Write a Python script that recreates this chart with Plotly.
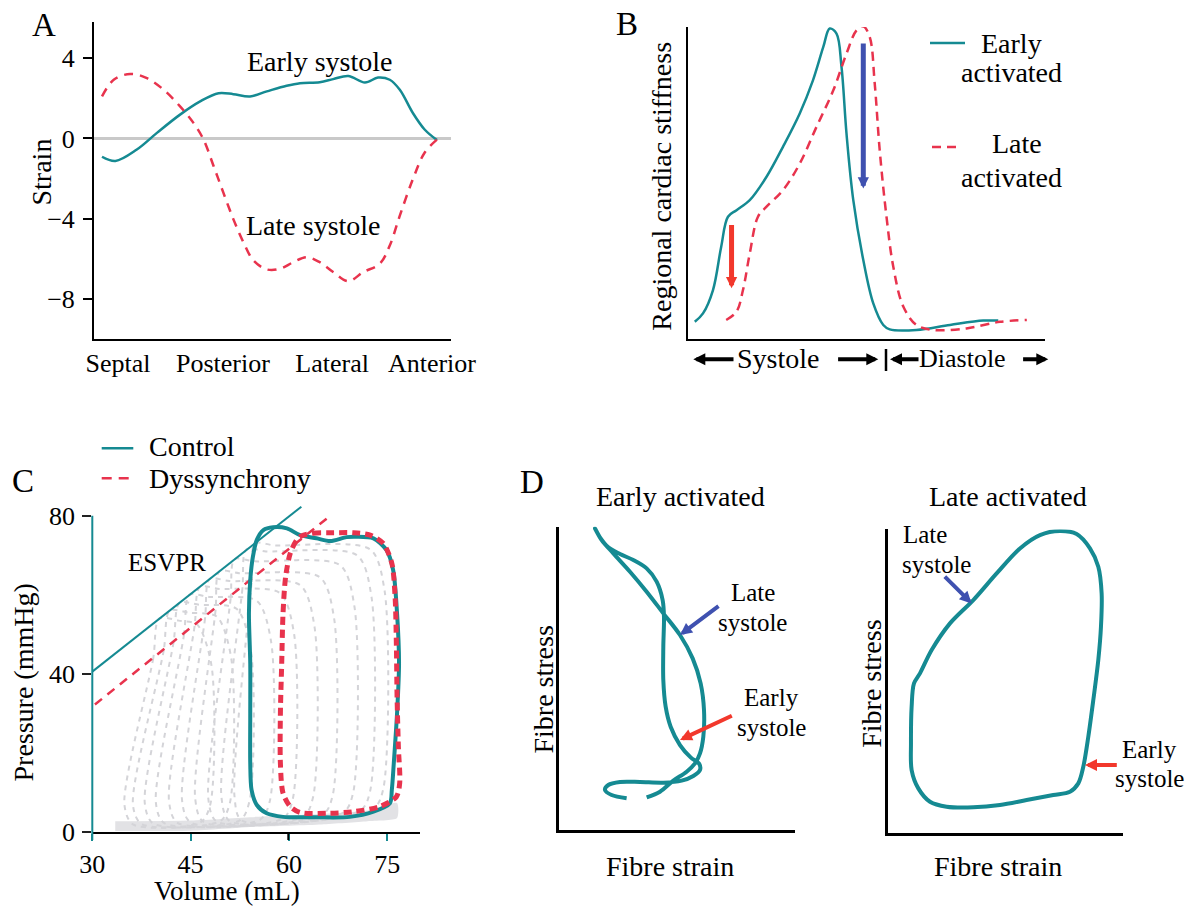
import plotly.graph_objects as go

W, H = 1187, 906
FONT = "Liberation Serif"
TEAL = "#158a92"
RED = "#e8334d"
BLUE_ARROW = "#3f51b0"
RED_ARROW = "#f2382c"
GRAY = "#d4d4d8"
BAND = "#e2e2e5"

# ---------------- Panel A data ----------------
A_CATS = ["Septal", "Posterior", "Lateral", "Anterior"]
A_CAT_POS = [4.8, 36.1, 68.7, 98.5]
A_TICKS = [4, 0, -4, -8]
A_EARLY_X = [0, 4.0, 10.4, 16.4, 23.3, 29.3, 34.8, 39.2, 44.2, 49.2, 55.1, 59.1, 65.0, 69.0,
             73.5, 78.5, 82.4, 85.9, 88.9, 92.8, 96.3, 100]
A_EARLY_Y = [-0.91, -1.12, -0.55, 0.28, 1.19, 1.85, 2.26, 2.21, 2.10, 2.35, 2.63, 2.76, 2.81, 2.96,
             3.12, 2.79, 3.04, 2.93, 2.43, 1.27, 0.45, -0.08]
A_LATE_X = [0, 3.5, 8.4, 13.4, 18.4, 23.3, 27.3, 30.3, 33.3, 36.2, 39.2, 42.2, 45.2, 49.2, 53.1,
            57.1, 61.1, 65.0, 69.0, 73.5, 78.0, 82.9, 85.9, 88.9, 92.8, 96.3, 100]
A_LATE_Y = [2.10, 2.93, 3.22, 3.01, 2.43, 1.60, 0.78, -0.05, -1.37, -2.69, -4.02, -5.17, -6.08,
            -6.53, -6.50, -6.17, -5.92, -6.17, -6.66, -7.12, -6.66, -6.25, -5.34, -3.85, -2.03,
            -0.71, -0.05]

# ---------------- Panel B data ----------------
B_EARLY_X = [1.9, 4.2, 7.0, 9.3, 11.2, 13.6, 17.3, 22.0, 26.6, 31.3, 35.0, 37.9, 39.7, 41.6, 43.0,
             44.4, 46.3, 49.1, 51.9, 54.7, 56.5, 64.0, 73.4, 82.7, 86.9]
B_EARLY_Y = [5.5, 8.2, 15.7, 29.6, 39.2, 41.3, 44.5, 52.0, 61.6, 72.3, 82.9, 93.6, 99.5, 97.9, 87.2,
             65.8, 44.5, 25.3, 11.4, 4.5, 3.1, 2.9, 4.5, 5.9, 5.9]
B_LATE_X = [10.7, 13.6, 15.4, 17.3, 19.6, 22.0, 26.6, 31.3, 36.0, 40.7, 44.4, 47.2, 49.1, 50.9,
            52.3, 53.7, 55.6, 57.5, 60.3, 64.0, 68.7, 78.0, 87.4, 94.9]
B_LATE_Y = [6.1, 8.8, 15.7, 27.4, 39.2, 42.4, 47.7, 56.2, 68.0, 79.7, 91.5, 98.9, 100.2, 96.8,
            81.9, 60.5, 39.2, 23.2, 10.4, 4.5, 2.9, 3.4, 5.5, 6.1]

# ---------------- Panel C data ----------------
C_XTICKS = [30, 45, 60, 75]
C_YTICKS = [0, 40, 80]
CTRL_V = [57.6, 56.1, 55.1, 54.5, 54.1, 53.9, 54.1, 54.1, 54.1, 54.3, 55.1, 56.6, 59.1, 64.2, 69.3,
          72.9, 75.4, 75.7, 76.0, 76.5, 76.8, 76.5, 75.9, 74.9, 72.9, 70.3, 68.8, 66.3, 64.2, 61.7,
          59.7, 57.6]
CTRL_P = [77.1, 76.4, 73.9, 69.6, 63.8, 55.3, 42.7, 30.1, 17.4, 10.7, 6.9, 4.8, 3.9, 3.8, 3.9,
          5.2, 7.3, 10.7, 17.4, 30.1, 42.7, 55.3, 66.3, 71.3, 74.3, 74.7, 74.6, 73.6, 74.3, 75.1,
          76.8, 77.1]
DYS_V = [61.9, 63.7, 66.8, 69.8, 72.4, 74.4, 75.7, 76.2, 76.4, 76.5, 76.7, 76.9, 76.4, 73.9, 69.8,
         65.8, 61.7, 60.2, 59.1, 58.7, 58.7, 58.9, 59.1, 59.5, 60.2, 61.2, 61.9]
DYS_P = [74.9, 75.6, 75.7, 75.7, 75.1, 73.0, 68.0, 59.5, 46.9, 34.3, 21.6, 12.4, 9.0, 6.5, 5.2,
         4.8, 5.0, 6.5, 9.9, 17.4, 30.1, 42.7, 55.3, 64.6, 70.5, 73.9, 74.9]
ESVPR_CTRL_V = [30.0, 61.9]
ESVPR_CTRL_P = [40.6, 82.3]
ESVPR_DYS_V = [30.4, 66.0]
ESVPR_DYS_P = [32.3, 79.6]
BAND_V = [33.5, 45, 55, 65, 72, 76.5, 76.5, 72, 65, 55, 45, 33.5]
BAND_P = [2.8, 3.0, 3.9, 4.6, 5.5, 7.4, 3.6, 2.8, 2.0, 1.4, 0.4, 0.3]
GRAY_V = [
    [54.8, 54.3, 51.7, 52.8, 72.9, 74.4, 74.6, 72.4, 57.8, 54.8],
    [53.5, 52.9, 49.7, 51.0, 70.9, 72.4, 72.6, 70.4, 56.5, 53.5],
    [51.7, 51.1, 47.7, 49.0, 68.3, 69.8, 70.0, 67.8, 54.7, 51.7],
    [49.4, 48.8, 45.7, 47.0, 65.2, 66.7, 66.9, 64.7, 52.4, 49.4],
    [47.9, 47.2, 43.7, 45.0, 62.2, 63.7, 63.9, 61.7, 50.9, 47.9],
    [46.4, 45.6, 41.7, 43.0, 59.1, 60.6, 60.8, 58.6, 49.4, 46.4],
    [44.8, 44.0, 39.7, 41.0, 55.6, 57.1, 57.3, 55.1, 47.8, 44.8],
    [43.3, 42.4, 38.0, 39.3, 52.5, 54.0, 54.2, 52.0, 46.3, 43.3],
    [41.8, 40.9, 36.2, 37.5, 49.5, 51.0, 51.2, 49.0, 44.8, 41.8],
    [40.2, 39.3, 34.9, 36.2, 46.5, 48.0, 48.2, 46.0, 43.2, 40.2],
]
GRAY_P = [
    [73, 63, 9, 3.0, 6.0, 11, 61, 71.5, 72.5, 73],
    [71.5, 61.5, 9, 2.8, 5.5, 10.5, 59.5, 70, 71, 71.5],
    [69, 59, 8.5, 2.7, 5.0, 10, 57, 67.5, 68.5, 69],
    [66, 56, 8.5, 2.6, 4.5, 9.5, 54, 64.5, 65.5, 66],
    [64, 54, 8, 2.5, 4.0, 9, 52, 62.5, 63.5, 64],
    [62, 52, 8, 2.4, 3.5, 8.5, 50, 60.5, 61.5, 62],
    [60, 50, 7.5, 2.3, 3.2, 8, 48, 58.5, 59.5, 60],
    [58, 48, 7.5, 2.2, 3.0, 8, 46, 56.5, 57.5, 58],
    [56, 46, 7, 2.1, 2.8, 7.5, 44, 54.5, 55.5, 56],
    [54, 44, 7, 2.0, 2.5, 7, 42, 52.5, 53.5, 54],
]

# ---------------- Panel D data ----------------
DL_X = [20.2, 15.7, 13.7, 14.7, 18.2, 24.2, 31.2, 36.7, 40.2, 42.2, 42.0, 39.4, 36.2, 33.4, 31.9,
        31.2, 31.2, 31.4, 31.0, 29.2, 26.2, 22.2, 18.2, 14.7, 12.2, 10.7,
        12.7, 16.2, 21.2, 26.2, 31.2, 36.2, 40.0, 42.4, 43.4, 43.2, 42.2, 40.7, 38.2, 34.2, 30.2,
        26.2]
DL_Y = [9.5, 10.5, 12.0, 13.5, 14.4, 14.4, 14.2, 14.8, 16.2, 18.0, 19.8, 21.8, 25.5, 31.0, 37.0,
        45.0, 55.0, 64.0, 69.0, 74.5, 78.5, 81.0, 82.8, 84.8, 87.8, 90.5,
        87.0, 83.0, 77.5, 71.5, 65.0, 58.5, 51.5, 44.0, 36.0, 28.0, 23.0, 20.0, 17.5, 14.8, 11.5,
        9.8]
DR_X = [9.5, 13.0, 18.5, 25.5, 32.5, 39.5, 45.5, 51.5, 56.5, 60.5, 63.0, 64.0, 63.8, 63.0, 61.5,
        60.0, 58.5, 57.0, 54.5, 49.5, 41.5, 33.5, 25.5, 17.5, 12.5, 9.0, 7.0, 6.8, 7.0, 7.7, 9.5]
DR_Y = [47.8, 54.8, 62.8, 69.8, 77.8, 85.3, 89.3, 90.5, 89.6, 85.3, 79.8, 71.8, 61.8, 51.8, 39.8,
        28.8, 19.8, 14.8, 12.3, 11.3, 9.8, 8.3, 7.6, 7.8, 9.3, 13.3, 18.8, 26.8, 37.8, 44.8, 47.8]


def px(x):
    return x / W


def py(y):
    return 1 - y / H


fig = go.Figure()

# ---- Panel A ----
fig.add_trace(go.Scatter(x=A_EARLY_X, y=A_EARLY_Y, mode="lines", xaxis="x", yaxis="y",
                         line=dict(color=TEAL, width=2.5, shape="spline", smoothing=1)))
fig.add_trace(go.Scatter(x=A_LATE_X, y=A_LATE_Y, mode="lines", xaxis="x", yaxis="y",
                         line=dict(color=RED, width=2.5, shape="spline", smoothing=1,
                                   dash="9px,7px")))

# ---- Panel B ----
fig.add_trace(go.Scatter(x=B_EARLY_X, y=B_EARLY_Y, mode="lines", xaxis="x2", yaxis="y2",
                         line=dict(color=TEAL, width=2.5, shape="spline", smoothing=1)))
fig.add_trace(go.Scatter(x=B_LATE_X, y=B_LATE_Y, mode="lines", xaxis="x2", yaxis="y2",
                         line=dict(color=RED, width=2.5, shape="spline", smoothing=1,
                                   dash="9px,6px")))

# ---- Panel C ----
fig.add_trace(go.Scatter(x=BAND_V, y=BAND_P, mode="lines", fill="toself", fillcolor=BAND,
                         xaxis="x3", yaxis="y3", line=dict(width=0, color=BAND,
                                                           shape="spline", smoothing=0.6)))
for gv, gp in zip(GRAY_V, GRAY_P):
    fig.add_trace(go.Scatter(x=gv, y=gp, mode="lines", xaxis="x3", yaxis="y3",
                             line=dict(color=GRAY, width=2, shape="spline", smoothing=0.8,
                                       dash="5px,5px")))
fig.add_trace(go.Scatter(x=ESVPR_CTRL_V, y=ESVPR_CTRL_P, mode="lines", xaxis="x3", yaxis="y3",
                         line=dict(color=TEAL, width=2)))
fig.add_trace(go.Scatter(x=ESVPR_DYS_V, y=ESVPR_DYS_P, mode="lines", xaxis="x3", yaxis="y3",
                         line=dict(color=RED, width=2.5, dash="9px,7px")))
fig.add_trace(go.Scatter(x=CTRL_V, y=CTRL_P, mode="lines", xaxis="x3", yaxis="y3",
                         line=dict(color=TEAL, width=4, shape="spline", smoothing=0.8)))
fig.add_trace(go.Scatter(x=DYS_V, y=DYS_P, mode="lines", xaxis="x3", yaxis="y3",
                         line=dict(color=RED, width=5, shape="spline", smoothing=0.8,
                                   dash="8px,5px")))

# ---- Panel D ----
fig.add_trace(go.Scatter(x=DL_X, y=DL_Y, mode="lines", xaxis="x4", yaxis="y4",
                         line=dict(color=TEAL, width=4, shape="spline", smoothing=0.9)))
fig.add_trace(go.Scatter(x=DR_X, y=DR_Y, mode="lines", xaxis="x5", yaxis="y5",
                         line=dict(color=TEAL, width=4, shape="spline", smoothing=0.9)))

tickfont = dict(family=FONT, size=26, color="black")
bare = dict(showgrid=False, zeroline=False, fixedrange=True, automargin=False)

fig.update_layout(
    width=W, height=H, margin=dict(l=0, r=0, t=0, b=0, pad=0, autoexpand=False),
    paper_bgcolor="white", plot_bgcolor="white", showlegend=False,
    font=dict(family=FONT, color="black"),
    xaxis=dict(domain=[px(94), px(451)], range=[-2.39, 104.18], anchor="y",
               showline=True, linecolor="black", linewidth=2, ticks="",
               tickvals=A_CAT_POS, ticktext=A_CATS, tickfont=tickfont,
               ticklabelstandoff=0, **bare),
    yaxis=dict(domain=[py(339), py(22)], range=[-10, 5.81], anchor="x",
               showline=True, linecolor="black", linewidth=2, ticks="outside",
               ticklen=9, tickwidth=2, tickcolor="black", tickvals=A_TICKS,
               tickfont=tickfont, ticklabelstandoff=3, showgrid=False, fixedrange=True,
               automargin=False,
               zeroline=True, zerolinecolor="#c9c9c9", zerolinewidth=3),
    xaxis2=dict(domain=[px(688), px(1045)], range=[0, 100], anchor="y2",
                showline=True, linecolor="black", linewidth=2, ticks="",
                showticklabels=False, **bare),
    yaxis2=dict(domain=[py(339), py(27)], range=[0, 100], anchor="x2",
                showline=True, linecolor="black", linewidth=2, ticks="",
                showticklabels=False, **bare),
    xaxis3=dict(domain=[px(92.3), px(420)], range=[30, 80], anchor="y3",
                showline=True, linecolor="black", linewidth=2, ticks="outside",
                ticklen=7, tickwidth=2, tickcolor=TEAL, tickvals=C_XTICKS,
                tickfont=tickfont, ticklabelstandoff=0, **bare),
    yaxis3=dict(domain=[py(832.3), py(503.9)], range=[0, 83], anchor="x3",
                showline=False, ticks="outside", ticklen=9, tickwidth=2, tickcolor="#222",
                tickvals=C_YTICKS, tickfont=tickfont, ticklabelstandoff=2, **bare),
    xaxis4=dict(domain=[px(559.3), px(795)], range=[0, 70.7], anchor="y4",
                showline=True, linecolor="black", linewidth=2.5, ticks="",
                showticklabels=False, **bare),
    yaxis4=dict(domain=[py(830), py(526.7)], range=[0, 91], anchor="x4",
                showline=True, linecolor="black", linewidth=2.5, ticks="",
                showticklabels=False, **bare),
    xaxis5=dict(domain=[px(888.3), px(1123.3)], range=[0, 70.5], anchor="y5",
                showline=True, linecolor="black", linewidth=2.5, ticks="",
                showticklabels=False, **bare),
    yaxis5=dict(domain=[py(832.7), py(529.4)], range=[0, 91], anchor="x5",
                showline=True, linecolor="black", linewidth=2.5, ticks="",
                showticklabels=False, **bare),
)


def txt(x, y, s, size=28, xanchor="center", angle=0):
    return dict(x=px(x), y=py(y), xref="paper", yref="paper", text=s, showarrow=False,
                font=dict(family=FONT, size=size, color="black"), xanchor=xanchor,
                yanchor="middle", textangle=angle)


ann = [
    # A
    txt(43.5, 25, "A", 33),
    txt(319, 61, "Early systole"),
    txt(313, 226, "Late systole"),
    txt(41, 172.5, "Strain", angle=-90),
    # B
    txt(627, 24, "B", 33),
    txt(662, 186.7, "Regional cardiac stiffness", angle=-90),
    txt(1012, 43, "Early"), txt(1011.7, 73, "activated"),
    txt(1016.7, 143, "Late"), txt(1011.7, 177.5, "activated"),
    txt(777.7, 358, "Systole"), txt(962.7, 358, "Diastole", 26),
    # C
    txt(22.5, 481, "C", 33),
    txt(146.7, 447, "Control", xanchor="left"),
    txt(146.7, 478, "Dyssynchrony", xanchor="left"),
    txt(166.7, 562.5, "ESVPR", 25),
    txt(22.5, 683, "Pressure (mmHg)", angle=-90),
    txt(226.7, 891, "Volume (mL)", 27),
    # D
    txt(531.7, 481.7, "D", 33),
    txt(680, 496.7, "Early activated"),
    txt(542.5, 690, "Fibre stress", angle=-90),
    txt(670, 866.7, "Fibre strain"),
    txt(752.5, 592, "Late", 25), txt(752, 622, "systole", 25),
    txt(771.5, 697, "Early", 25), txt(771.5, 727, "systole", 25),
    txt(1008.3, 496.7, "Late activated"),
    txt(870.8, 684, "Fibre stress", angle=-90),
    txt(998.3, 866.7, "Fibre strain"),
    txt(925, 534, "Late", 25), txt(936.7, 564, "systole", 25),
    txt(1149, 749, "Early", 25), txt(1149.7, 778, "systole", 25),
]


def data_arrow(xa, ya, tip, tail, color, width, size):
    return dict(x=tip[0], y=tip[1], ax=tail[0], ay=tail[1], xref=xa, yref=ya,
                axref=xa, ayref=ya, text="", showarrow=True, arrowhead=2,
                arrowsize=size, arrowwidth=width, arrowcolor=color, standoff=0)


ann += [
    data_arrow("x2", "y2", (12.2, 16.3), (12.2, 37.0), RED_ARROW, 5, 0.45),
    data_arrow("x2", "y2", (49.1, 48.2), (49.1, 95.2), BLUE_ARROW, 5, 0.45),
    data_arrow("x4", "y4", (36.2, 58.5), (48.2, 67.5), BLUE_ARROW, 4, 0.6),
    data_arrow("x4", "y4", (36.2, 27.0), (52.2, 34.5), RED_ARROW, 4, 0.6),
    data_arrow("x5", "y5", (25.0, 68.8), (16.5, 77.3), BLUE_ARROW, 4, 0.6),
    data_arrow("x5", "y5", (59.0, 20.3), (69.0, 20.3), RED_ARROW, 4, 0.6),
]


def paper_arrow(tipx, tipy, dx):
    return dict(x=px(tipx), y=py(tipy), xref="paper", yref="paper", ax=dx, ay=0,
                text="", showarrow=True, arrowhead=2, arrowsize=0.6, arrowwidth=4,
                arrowcolor="black", standoff=0)


ann += [
    paper_arrow(693.3, 359.3, 41.7),
    paper_arrow(878.3, 359.3, -41.7),
    paper_arrow(890, 359.3, 30),
    paper_arrow(1048.3, 359.3, -26.7),
]

fig.update_layout(annotations=ann)


def pline(x0, y0, x1, y1, color, width, dash="solid"):
    return dict(type="line", xref="paper", yref="paper", x0=px(x0), y0=py(y0),
                x1=px(x1), y1=py(y1), line=dict(color=color, width=width, dash=dash))


fig.update_layout(shapes=[
    # Panel C y-axis line (teal) and black tick at 60
    pline(92.3, 515.7, 92.3, 840, TEAL, 2),
    pline(288.3, 833, 288.3, 840, "black", 2),
    # Panel B separator bar
    pline(886, 349, 886, 371, "black", 2.5),
    # Panel B legend samples
    pline(930, 43, 965, 43, TEAL, 2.5),
    pline(932, 147, 962, 147, RED, 2.5, "9px,6px"),
    # Panel C legend samples
    pline(101.7, 448.3, 133.3, 448.3, TEAL, 2.5),
    pline(101.7, 478.3, 133.3, 478.3, RED, 2.5, "10px,7px"),
])

fig.write_html("out.html")
